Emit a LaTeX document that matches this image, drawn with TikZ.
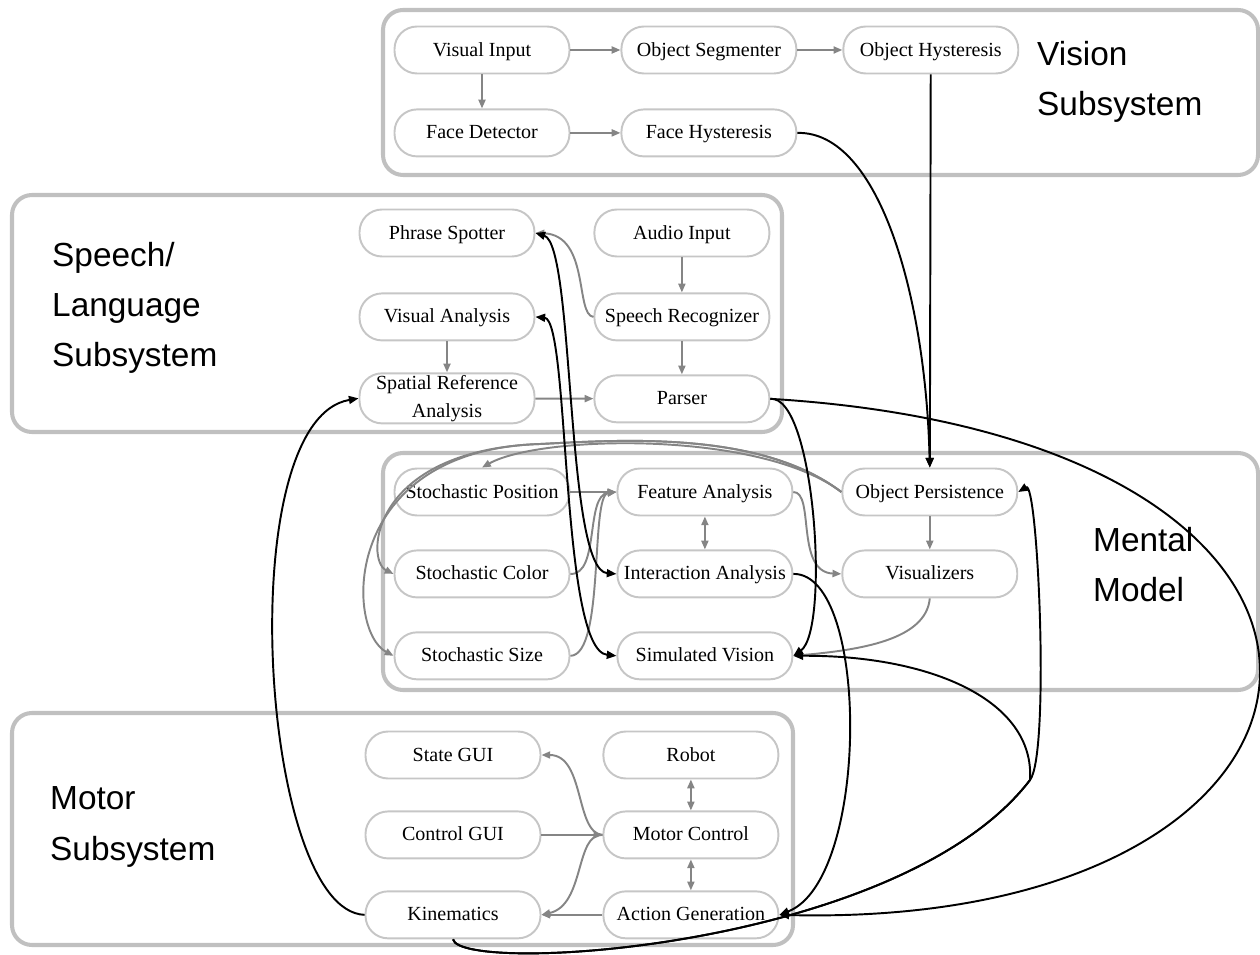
\documentclass[tikz,border=0pt]{standalone}
\usepackage{fontspec}
\setmainfont{Liberation Serif}
\newfontfamily\labelsans{Liberation Sans}
\usepackage{xcolor}
\usepackage{tikz}
\usetikzlibrary{arrows.meta, positioning}
\definecolor{sysline}{HTML}{C0C0C0}
\definecolor{modline}{HTML}{C6C6C6}
\definecolor{flowgray}{HTML}{858585}
\newcommand{\modfont}{\fontsize{11.4}{16}\selectfont}
\newcommand{\labelfont}{\labelsans\fontsize{19}{28.5}\selectfont}
\tikzset{
    subsys/.style={draw=sysline, line width=2.3pt, rounded corners=0.4cm},
    mod/.style={rectangle, rounded corners=0.45cm, draw=modline, line width=1.1pt,
                fill=white, minimum width=3.5cm, minimum height=0.94cm, align=center,
                inner sep=1pt, font=\modfont, text height=1.85ex, text depth=0.35ex},
    syslabel/.style={anchor=west, align=left, font=\labelfont},
    garr/.style={-{Triangle[length=5pt, width=4pt]}, line width=1.1pt, color=flowgray},
    gdbl/.style={{Triangle[length=5pt, width=4pt]}-{Triangle[length=5pt, width=4pt]},
                 line width=1.1pt, color=flowgray},
    barr/.style={-{Triangle[length=5.5pt, width=4.5pt]}, line width=1.1pt, color=black},
    bdbl/.style={{Triangle[length=5.5pt, width=4.5pt]}-{Triangle[length=5.5pt, width=4.5pt]},
                 line width=1.1pt, color=black},
}

\begin{document}
\begin{tikzpicture}[x=0.02cm, y=-0.02cm]
  \useasboundingbox (0,0) rectangle (1260,955);

  % subsystem frames
  \draw[subsys] (383,10) rectangle (1258,175);
  \draw[subsys] (12,195) rectangle (782,432);
  \draw[subsys] (383,453) rectangle (1258,690);
  \draw[subsys] (12,713) rectangle (793,945);

  \node[syslabel] (vlab) at (1031,82) {Vision\\Subsystem};
  \node[syslabel] (slab) at (46,308) {Speech/\\Language\\Subsystem};
  \node[syslabel] (mlab) at (1087,565) {Mental\\Model};
  \node[syslabel] (klab) at (44,827) {Motor\\Subsystem};

  % vision
  \node[mod] (vi) at (482,50) {Visual Input};
  \node[mod, right=1cm of vi] (os) {Object Segmenter};
  \node[mod, right=0.9cm of os] (oh) {Object Hysteresis};
  \node[mod, below=0.68cm of vi] (fd) {Face Detector};
  \node[mod, right=1cm of fd] (fh) {Face Hysteresis};

  % speech / language
  \node[mod] (ps) at (447,233) {Phrase Spotter};
  \node[mod, right=1.16cm of ps] (ai) {Audio Input};
  \node[mod, below=0.7cm of ps] (va) {Visual Analysis};
  \node[mod, below=0.7cm of ai] (sr) {Speech Recognizer};
  \node[mod, below=0.62cm of va, text height=, text depth=] (spa) {Spatial Reference\\Analysis};
  \node[mod, below=0.66cm of sr] (pa) {Parser};

  % mental model
  \node[mod] (sp) at (482,492) {Stochastic Position};
  \node[mod, right=0.92cm of sp] (fa) {Feature Analysis};
  \node[mod, right=0.96cm of fa] (op) {Object Persistence};
  \node[mod, below=0.66cm of sp] (sc) {Stochastic Color};
  \node[mod, below=0.66cm of fa] (ia) {Interaction Analysis};
  \node[mod, below=0.66cm of op] (vis) {Visualizers};
  \node[mod, below=0.66cm of sc] (ss) {Stochastic Size};
  \node[mod, below=0.66cm of ia] (sv) {Simulated Vision};

  % motor
  \node[mod] (sg) at (453,755) {State GUI};
  \node[mod, right=1.22cm of sg] (rb) {Robot};
  \node[mod, below=0.62cm of sg] (cg) {Control GUI};
  \node[mod, below=0.62cm of rb] (mc) {Motor Control};
  \node[mod, below=0.62cm of cg] (kin) {Kinematics};
  \node[mod, below=0.62cm of mc] (ag) {Action Generation};

  \coordinate (kjoin) at (1030,780);
  \coordinate (obend) at (540,444);

  % links inside the subsystems
  \draw[garr] (vi) -- (os);
  \draw[garr] (os) -- (oh);
  \draw[garr] (vi) -- (fd);
  \draw[garr] (fd) -- (fh);

  \draw[garr] (ai) -- (sr);
  \draw[garr] (sr) -- (pa);
  \draw[garr] (va) -- (spa);
  \draw[garr] (spa) -- (pa);
  \draw[garr] (sr.west) .. controls (575,315) and (590,235) .. (ps.east);

  \draw[garr] (op.west) .. controls (760,430) and (540,435) .. (sp.north);
  \draw[garr] (op.west) .. controls (760,430) and (620,440) .. (obend)
                        .. controls (370,450) and (365,560) .. (sc.west);
  \draw[garr] (op.west) .. controls (760,430) and (620,440) .. (obend)
                        .. controls (340,450) and (345,630) .. (ss.west);
  \draw[garr] (sp) -- (fa);
  \draw[garr] (sc.east) .. controls (600,575) and (585,495) .. (fa.west);
  \draw[garr] (ss.east) .. controls (605,655) and (590,495) .. (fa.west);
  \draw[gdbl] (fa) -- (ia);
  \draw[garr] (fa.east) .. controls (815,492) and (795,572) .. (vis.west);
  \draw[garr] (op) -- (vis);
  \draw[garr] (vis.south) .. controls (926,640) and (860,650) .. (sv.east);

  \draw[gdbl] (rb) -- (mc);
  \draw[gdbl] (mc) -- (ag);
  \draw[garr] (mc.west) .. controls (575,833) and (585,755) .. (sg.east);
  \draw[garr] (cg) -- (mc);
  \draw[garr] (mc.west) .. controls (575,833) and (585,905) .. (kin.east);
  \draw[garr] (ag) -- (kin);

  % links between the subsystems
  \draw[barr] (oh) -- (op);
  \draw[barr] (fh.east) .. controls (880,131) and (926,300) .. (op.north);
  \draw[bdbl] (ps.east) .. controls (575,245) and (565,570) .. (ia.west);
  \draw[bdbl] (va.east) .. controls (570,320) and (560,650) .. (sv.west);
  \draw[barr] (pa.east) .. controls (815,395) and (830,630) .. (sv.east);
  \draw[barr] (pa.east) .. controls (1450,440) and (1390,930) .. (ag.east);
  \draw[barr] (ia.east) .. controls (870,573) and (870,880) .. (ag.east);
  \draw[barr] (kin.west) .. controls (260,911) and (230,420) .. (spa.west);
  \draw[barr] (kin.south) .. controls (460,975) and (900,950) .. (kjoin)
              .. controls (1050,754) and (1038,480) .. (op.east);
  \draw[barr] (kin.south) .. controls (460,975) and (900,950) .. (kjoin)
              .. controls (1035,700) and (930,655) .. (sv.east);

\end{tikzpicture}
\end{document}
